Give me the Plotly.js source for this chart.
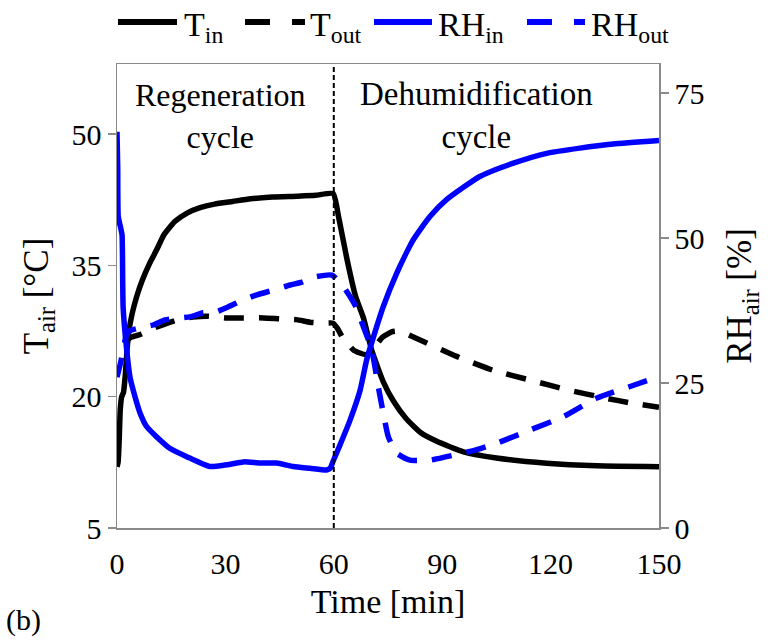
<!DOCTYPE html>
<html>
<head>
<meta charset="utf-8">
<script src="https://cdn.plot.ly/plotly-3.0.1.min.js"></script>
<style>
  html, body { margin: 0; padding: 0; background: #ffffff; }
  #chart { width: 771px; height: 640px; }
</style>
</head>
<body>
<div id="chart"></div>
<script>
// Air temperature at the inlet / outlet [°C]
const timeTin = [0, 0.3, 0.6, 0.9, 1.3, 1.8, 2.3, 2.8, 3.3, 4.2, 5.5, 7, 9, 11, 13, 16, 19.5, 23, 27, 32, 37, 43, 50, 55, 59.8,
                 61.3, 63.6, 66, 68.2, 70.5, 73.7, 76.5, 80, 84, 88.5, 95.9, 105, 118.9, 132.8, 150];
const Tin = [12.0, 12.5, 15.0, 18.5, 20.0, 20.5, 22.5, 25.5, 27.5, 29.5, 31.5, 33.3, 35.2, 36.8, 38.5, 40.0, 41.0, 41.6, 42.0, 42.3, 42.6, 42.8, 42.9, 43.0, 43.2,
             40.6, 35.8, 31.5, 29.0, 25.3, 21.7, 19.5, 17.5, 15.9, 14.9, 13.7, 13.0, 12.4, 12.1, 12.0];

const timeTout = [2, 4, 6.4, 10, 14, 18, 21, 25, 30.4, 35, 40.5, 45, 49.7, 53.4, 57, 59.8,
                  61, 62.5, 64, 65.5, 69, 71.5, 73.5, 76, 78, 80, 84.8, 94, 104.2, 114.3, 124.5, 135.6, 142, 150];
const Tout = [26.2, 26.8, 27.1, 27.8, 28.4, 28.9, 29.1, 29.2, 29.0, 29.0, 29.0, 28.9, 28.8, 28.5, 28.4, 28.4,
              27.8, 26.7, 26.0, 25.3, 24.8, 25.8, 26.8, 27.4, 27.5, 27.2, 26.3, 24.6, 23.0, 21.9, 20.8, 19.8, 19.3, 18.8];

// Relative humidity at the inlet / outlet [%]
const timeRHin = [0, 0.2, 0.35, 1.1, 1.4, 1.7, 2.8, 3.6, 5.0, 6.4, 8.2, 11, 14.7, 19.3, 25.7, 30.4, 35, 39.6, 44.2, 48.8, 53.4, 58, 59, 59.8,
                  61.7, 64.5, 67.3, 69.1, 71, 73.7, 77.4, 82, 86.6, 91.2, 100.4, 109.7, 118.9, 128.1, 137.3, 150];
const RHin = [68.3, 62, 53.7, 51.5, 50.5, 38, 30, 26, 22.6, 19.8, 17.5, 15.7, 13.7, 12.3, 10.6, 10.9, 11.4, 11.2, 11.2, 10.6, 10.3, 10.0, 10.3, 11.5,
              14.3, 18.6, 23.8, 29.0, 33.0, 38.2, 43.9, 49.7, 53.7, 56.6, 60.6, 62.9, 64.6, 65.5, 66.2, 66.8];

const timeRHout = [0, 1, 1.5, 2.5, 3.5, 6.4, 10, 13.3, 17.4, 20.2, 23.8, 27.1, 30.7, 34.9, 38.7, 43.2, 47.9, 51.2, 54.8, 59.5,
                   62.7, 65.9, 68.2, 70.5, 72.3, 73.7, 75.1, 77.4, 81.1, 86.6, 91.2, 97.7, 105, 114.3, 123.5, 132.8, 142, 150];
const RHout = [26.0, 28.5, 30.0, 33.0, 34.0, 34.5, 35.0, 35.9, 36.2, 36.4, 37.1, 37.2, 38.1, 39.3, 40.2, 41.0, 41.9, 42.4, 43.3, 43.6,
               41.6, 38.4, 34.7, 30.7, 24.4, 19.8, 15.7, 12.9, 11.7, 11.7, 12.3, 13.2, 14.6, 16.9, 19.2, 22.4, 24.4, 26.1];

const xTicks = [0, 30, 60, 90, 120, 150];
const tTicks = [5, 20, 35, 50];
const rhTicks = [0, 25, 50, 75];
const cycleSwitch = 60;

const FONT = '"Liberation Serif", "Times New Roman", Times, serif';
const AXIS_GREY = '#8a8a8a';
const BLUE = '#0000ff';
const BLACK = '#000000';
const DASH = '20px,15px';

// plot-area geometry in pixels, used to place the hand-built legend and labels
const M = { l: 117, r: 112, t: 64, b: 112 };
const PW = 771 - M.l - M.r, PH = 640 - M.t - M.b;
const px = x => (x - M.l) / PW;
const py = y => (640 - M.b - y) / PH;

const curve = (color, dash) => ({ color: color, width: 5.5, dash: dash || 'solid', shape: 'spline', smoothing: 0.5 });

const traces = [
  { x: timeTin, y: Tin, name: 'T<sub>in</sub>', type: 'scatter', mode: 'lines', line: curve(BLACK) },
  { x: timeTout, y: Tout, name: 'T<sub>out</sub>', type: 'scatter', mode: 'lines', line: curve(BLACK, DASH) },
  { x: timeRHin, y: RHin, name: 'RH<sub>in</sub>', type: 'scatter', mode: 'lines', yaxis: 'y2', line: curve(BLUE) },
  { x: timeRHout, y: RHout, name: 'RH<sub>out</sub>', type: 'scatter', mode: 'lines', yaxis: 'y2', line: curve(BLUE, DASH) }
];

// legend: line sample + label for every series
const legendItems = [
  { x0: 118, x1: 177, tx: 182, color: BLACK, dash: 'solid', text: 'T<sub>in</sub>' },
  { x0: 245, x1: 305, tx: 308, color: BLACK, dash: '25px,22px', text: 'T<sub>out</sub>' },
  { x0: 374, x1: 432, tx: 436, color: BLUE, dash: 'solid', text: 'RH<sub>in</sub>' },
  { x0: 527, x1: 585, tx: 589, color: BLUE, dash: '25px,22px', text: 'RH<sub>out</sub>' }
];

const shapes = [
  { type: 'line', xref: 'x', yref: 'paper', x0: cycleSwitch, x1: cycleSwitch, y0: 0, y1: 1,
    line: { color: BLACK, width: 2, dash: '5px,3px' } }
];
const annotations = [
  { xref: 'paper', yref: 'paper', x: px(220), y: py(116), xanchor: 'center', yanchor: 'middle',
    text: 'Regeneration<br>cycle', showarrow: false, align: 'center',
    font: { family: FONT, size: 32, color: BLACK } },
  { xref: 'paper', yref: 'paper', x: px(476), y: py(116), xanchor: 'center', yanchor: 'middle',
    text: 'Dehumidification<br>cycle', showarrow: false, align: 'center',
    font: { family: FONT, size: 33, color: BLACK } },
  { xref: 'paper', yref: 'paper', x: px(4), y: py(620), xanchor: 'left', yanchor: 'middle', text: '(b)',
    showarrow: false, font: { family: FONT, size: 30, color: BLACK } }
];
legendItems.forEach(it => {
  shapes.push({ type: 'line', xref: 'paper', yref: 'paper', x0: px(it.x0), x1: px(it.x1), y0: py(22), y1: py(22),
    line: { color: it.color, width: 6, dash: it.dash } });
  annotations.push({ xref: 'paper', yref: 'paper', x: px(it.tx), y: py(27), xanchor: 'left', yanchor: 'middle',
    text: it.text, showarrow: false, font: { family: FONT, size: 34, color: BLACK } });
});

const layout = {
  width: 771, height: 640,
  margin: M,
  paper_bgcolor: '#ffffff', plot_bgcolor: '#ffffff',
  showlegend: false,
  font: { family: FONT, size: 30, color: BLACK },
  xaxis: {
    range: [0, 150], tickvals: xTicks, ticktext: xTicks.map(String),
    showline: true, linecolor: AXIS_GREY, linewidth: 1.5, mirror: true,
    ticks: 'outside', ticklen: 8, tickcolor: 'rgba(0,0,0,0)',
    showgrid: false, zeroline: false,
    tickfont: { family: FONT, size: 30, color: BLACK },
    title: { text: 'Time [min]', font: { family: FONT, size: 34, color: BLACK }, standoff: 10 }
  },
  yaxis: {
    range: [5, 58], tickvals: tTicks, ticktext: tTicks.map(String),
    showline: true, linecolor: AXIS_GREY, linewidth: 1.5,
    ticks: 'outside', ticklen: 8, tickcolor: AXIS_GREY, tickwidth: 1.5,
    showgrid: false, zeroline: false,
    tickfont: { family: FONT, size: 30, color: BLACK },
    title: { text: 'T<sub>air</sub> [°C]', font: { family: FONT, size: 35, color: BLACK }, standoff: 12 }
  },
  yaxis2: {
    overlaying: 'y', side: 'right',
    range: [0, 80], tickvals: rhTicks, ticktext: rhTicks.map(String),
    showline: true, linecolor: AXIS_GREY, linewidth: 1.5,
    ticks: 'outside', ticklen: 8, tickcolor: AXIS_GREY, tickwidth: 1.5,
    showgrid: false, zeroline: false,
    tickfont: { family: FONT, size: 30, color: BLACK },
    title: { text: 'RH<sub>air</sub> [%]', font: { family: FONT, size: 35, color: BLACK }, standoff: 23 }
  },
  shapes: shapes,
  annotations: annotations
};

Plotly.newPlot('chart', traces, layout, { staticPlot: true, displayModeBar: false });
</script>
</body>
</html>
